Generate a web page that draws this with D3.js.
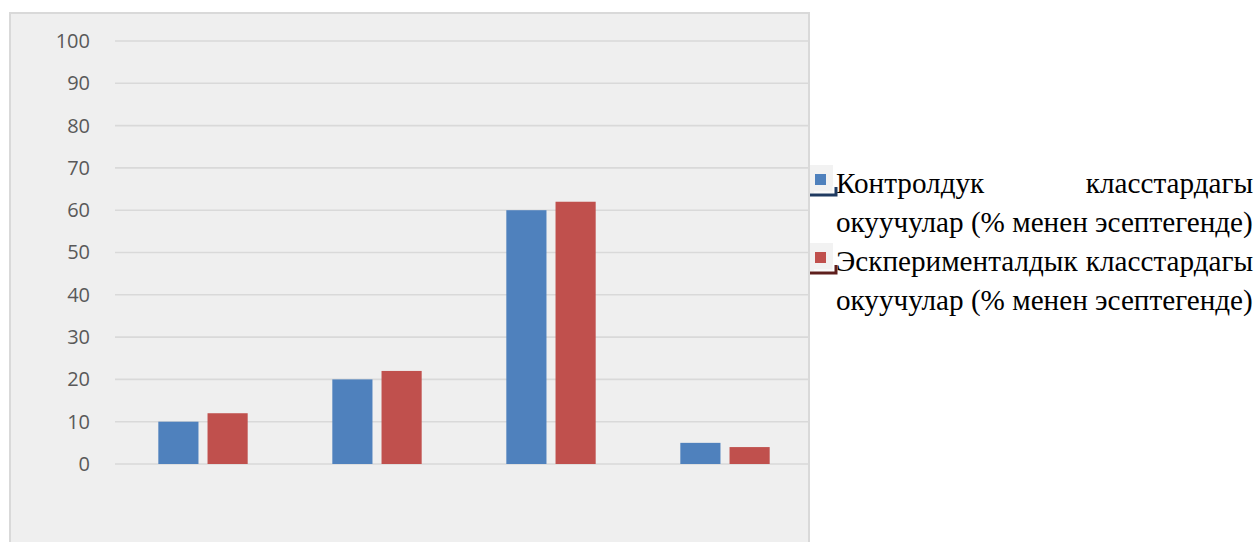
<!DOCTYPE html>
<html>
<head>
<meta charset="utf-8">
<script src="https://cdn.jsdelivr.net/npm/d3@7"></script>
<style>
  html, body { margin: 0; padding: 0; background: #ffffff; }
  svg { display: block; }
</style>
</head>
<body>
<svg id="chart" width="1260" height="542"></svg>
<script>
// ---- data ----
const categories = ["1", "2", "3", "4"];
const seriesNames = [
  "Контролдук класстардагы окуучулар (% менен эсептегенде)",
  "Эскперименталдык класстардагы окуучулар (% менен эсептегенде)"
];
const controlValues = [10, 20, 60, 5];
const experimentalValues = [12, 22, 62, 4];
const yTicks = [0, 10, 20, 30, 40, 50, 60, 70, 80, 90, 100];
const legendLines = [
  ["Контролдук", "класстардагы"],
  ["окуучулар (% менен эсептегенде)"],
  ["Эскперименталдык", "класстардагы"],
  ["окуучулар (% менен эсептегенде)"]
];

const colors = ["#4f81bd", "#c0504d"];
const darkColors = ["#1f3a60", "#5e1f1d"];

const svg = d3.select("#chart");

// chart area background box
svg.append("rect")
  .attr("x", 10).attr("y", 13)
  .attr("width", 799).attr("height", 560)
  .attr("fill", "#efefef")
  .attr("stroke", "#d9d9d9")
  .attr("stroke-width", 2);

const x0 = d3.scaleBand().domain(categories).range([116, 812]).padding(0);
const x1 = d3.scaleBand().domain([0, 1]).range([0, x0.bandwidth()])
  .paddingInner(0.184).paddingOuter(0.86);
const y = d3.scaleLinear().domain([0, 100]).range([464, 41]);

// gridlines
svg.append("g").selectAll("line").data(yTicks).join("line")
  .attr("x1", 115).attr("x2", 808)
  .attr("y1", d => y(d)).attr("y2", d => y(d))
  .attr("stroke", "#d9d9d9").attr("stroke-width", 1.6);

// y axis labels
const yAxis = d3.axisLeft(y).tickValues(yTicks).tickSize(0).tickPadding(0);
const yg = svg.append("g").attr("transform", "translate(90,0)").call(yAxis);
yg.select(".domain").remove();
yg.selectAll("text")
  .attr("fill", "#595959")
  .style("font-family", "'Open Sans', sans-serif")
  .style("font-size", "20px");

// bars
const series = [controlValues, experimentalValues];
series.forEach((vals, si) => {
  svg.append("g").selectAll("rect").data(vals).join("rect")
    .attr("x", (d, i) => x0(categories[i]) + x1(si))
    .attr("width", x1.bandwidth())
    .attr("y", d => y(d))
    .attr("height", d => y(0) - y(d))
    .attr("fill", colors[si]);
});

// legend
const lx = 836, rx = 1253;
const baselines = [193, 232, 271, 310];
const lg = svg.append("g")
  .style("font-family", "'Liberation Serif', 'Times New Roman', serif")
  .attr("fill", "#000");

// fit font size so that full line width matches
const probe = lg.append("text").style("font-size", "100px").text(legendLines[1][0]);
const w100 = probe.node().getComputedTextLength();
probe.remove();
const fs = 100 * (rx - lx) / w100;
lg.style("font-size", fs + "px");

legendLines.forEach((parts, li) => {
  if (parts.length === 1) {
    lg.append("text").attr("x", lx).attr("y", baselines[li]).text(parts[0]);
  } else {
    lg.append("text").attr("x", lx).attr("y", baselines[li]).text(parts[0]);
    lg.append("text").attr("x", rx).attr("y", baselines[li])
      .attr("text-anchor", "end").text(parts[1]);
  }
});

// legend markers
[0, 1].forEach(si => {
  const b = baselines[si * 2];
  const top = b - 19;
  const m = svg.append("g");
  m.append("rect").attr("x", 810).attr("y", top - 9).attr("width", 23).attr("height", 28)
    .attr("fill", "#f2f2f2");
  m.append("path")
    .attr("d", `M810,${top + 21} L836,${top + 21} L836,${top + 13}`)
    .attr("fill", "none").attr("stroke", darkColors[si]).attr("stroke-width", 3);
  m.append("path")
    .attr("d", `M814,${top + 18} L833,${top + 18} L833,${top + 12}`)
    .attr("fill", "none").attr("stroke", "#ffffff").attr("stroke-width", 1);
  m.append("rect").attr("x", 815).attr("y", top).attr("width", 11).attr("height", 11)
    .attr("fill", colors[si]);
});
</script>
</body>
</html>
